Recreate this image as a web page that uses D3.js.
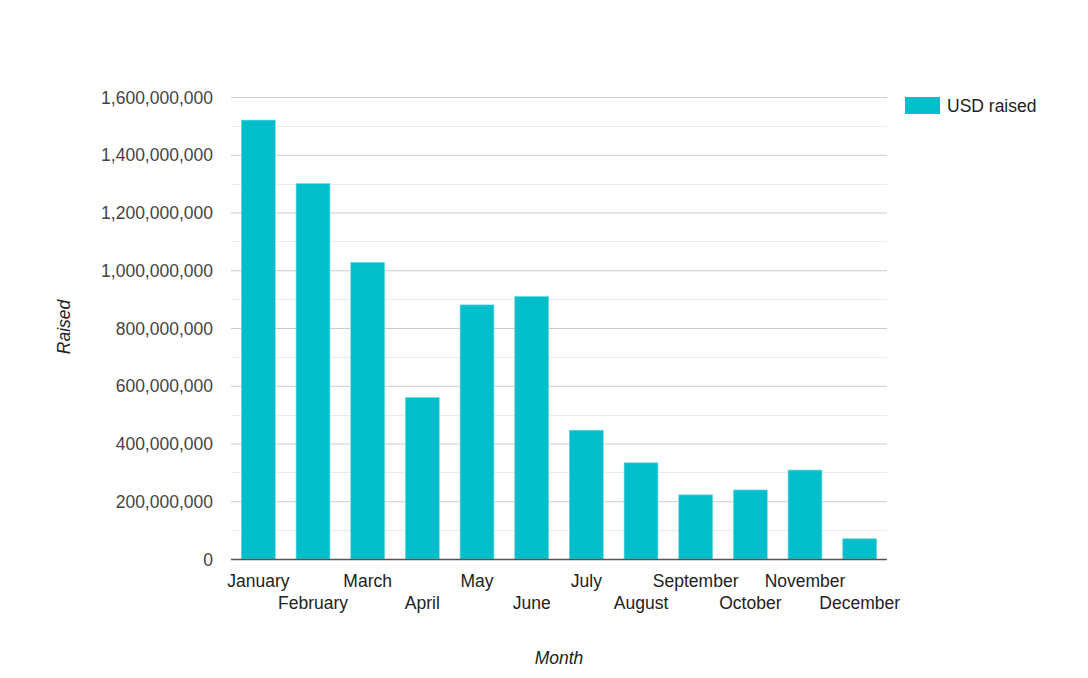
<!DOCTYPE html>
<html>
<head>
<meta charset="utf-8">
<script src="https://cdn.jsdelivr.net/npm/d3@7"></script>
<style>
  html, body { margin: 0; padding: 0; background: #fff; }
  svg { display: block; font-family: Arial, "Liberation Sans", sans-serif; }
</style>
</head>
<body>
<svg id="chart" width="1088" height="678"></svg>
<script>
const months = ["January","February","March","April","May","June","July","August","September","October","November","December"];
const usdRaised = [1520000000, 1300000000, 1027000000, 559000000, 880000000, 909000000, 446000000, 333000000, 222000000, 239000000, 308000000, 70000000];
const yTicks = [0, 200000000, 400000000, 600000000, 800000000, 1000000000, 1200000000, 1400000000, 1600000000];
const yMinorTicks = [100000000, 300000000, 500000000, 700000000, 900000000, 1100000000, 1300000000, 1500000000];
const seriesName = "USD raised";
const xTitle = "Month";
const yTitle = "Raised";

const svg = d3.select("#chart");
const plotLeft = 231, plotRight = 887, plotTop = 97, plotBottom = 559;
const color = "#00bfcb";
const fontSize = "17.5px";

const x = d3.scaleBand().domain(months).range([plotLeft, plotRight]).paddingInner(0.382).paddingOuter(0.191);
const y = d3.scaleLinear().domain([0, 1600000000]).range([plotBottom, plotTop]);

// minor gridlines
svg.append("g").selectAll("line").data(yMinorTicks).join("line")
  .attr("x1", plotLeft).attr("x2", plotRight)
  .attr("y1", d => Math.round(y(d)) + 0.5).attr("y2", d => Math.round(y(d)) + 0.5)
  .attr("stroke", "#ebebeb").attr("stroke-width", 1);

// y axis with major gridlines
const yAxis = svg.append("g").attr("transform", `translate(${plotLeft},0)`)
  .call(d3.axisLeft(y).tickValues(yTicks).tickSize(-(plotRight - plotLeft)).tickPadding(18)
    .tickFormat(d3.format(",")));
yAxis.select(".domain").remove();
yAxis.selectAll(".tick line").attr("stroke", "#cccccc").attr("stroke-width", 1);
yAxis.selectAll(".tick text").attr("fill", "#444").style("font-size", fontSize).attr("dy", "0.35em");
yAxis.selectAll(".tick").filter(d => d === 0).select("line").remove();

// bars
svg.append("g").selectAll("rect").data(months).join("rect")
  .attr("x", d => x(d))
  .attr("y", (d, i) => y(usdRaised[i]))
  .attr("width", x.bandwidth())
  .attr("height", (d, i) => y(0) - y(usdRaised[i]))
  .attr("fill", color)
  .attr("stroke", "#5fd6de").attr("stroke-width", 0.6);

// baseline
svg.append("line").attr("x1", plotLeft).attr("x2", plotRight)
  .attr("y1", y(0) + 0.5).attr("y2", y(0) + 0.5)
  .attr("stroke", "#555").attr("stroke-width", 1.5);

// x axis labels (alternating rows)
const xAxis = svg.append("g").attr("transform", `translate(0,${plotBottom})`)
  .call(d3.axisBottom(x).tickSize(0).tickPadding(0));
xAxis.select(".domain").remove();
xAxis.selectAll(".tick text")
  .attr("fill", "#222").style("font-size", fontSize)
  .attr("dy", null)
  .attr("y", (d, i) => i % 2 === 0 ? 28 : 50);

// axis titles
svg.append("text").attr("x", 559).attr("y", 664).attr("text-anchor", "middle")
  .attr("fill", "#222").style("font-size", fontSize).style("font-style", "italic").text(xTitle);
svg.append("text").attr("transform", "translate(70,327) rotate(-90)").attr("text-anchor", "middle")
  .attr("fill", "#222").style("font-size", fontSize).style("font-style", "italic").text(yTitle);

// legend
const lg = svg.append("g").attr("transform", "translate(905,97)");
lg.append("rect").attr("x", 0).attr("y", 0).attr("width", 35).attr("height", 17).attr("fill", color);
lg.append("text").attr("x", 42).attr("y", 14.5).attr("fill", "#222").style("font-size", fontSize).text(seriesName);
</script>
</body>
</html>
